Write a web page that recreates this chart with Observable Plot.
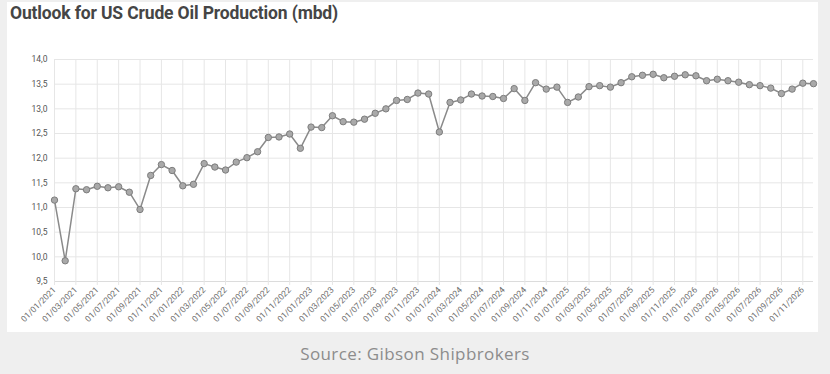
<!DOCTYPE html>
<html><head><meta charset="utf-8">
<script src="https://cdn.jsdelivr.net/npm/d3@7"></script>
<script src="https://cdn.jsdelivr.net/npm/@observablehq/plot@0.6"></script>
<style>
html,body{margin:0;padding:0;background:#efefef;width:830px;height:374px;overflow:hidden;}
#panel{position:absolute;left:7px;top:2px;width:811px;height:330px;background:#fff;}
#title{position:absolute;left:10px;top:3px;font:bold 17.5px Roboto;color:#454545;letter-spacing:-0.15px;white-space:nowrap}
#chart{position:absolute;left:0;top:40px;}
#source{position:absolute;left:0;width:830px;top:342px;text-align:center;font:17px "Open Sans";color:#8c8c8c;letter-spacing:0.4px;}
</style></head><body>
<div id="panel"></div>
<div id="title">Outlook for US Crude Oil Production (mbd)</div>
<div id="chart"></div>
<div id="source">Source: Gibson Shipbrokers</div>
<script>
// Monthly US crude oil production outlook (mbd), Jan 2021 – Dec 2026
const values = [
  11.15, 9.92, 11.38, 11.36, 11.43, 11.40, 11.42, 11.31, 10.96, 11.65, 11.87, 11.75,
  11.44, 11.47, 11.89, 11.82, 11.76, 11.92, 12.01, 12.13, 12.42, 12.43, 12.49, 12.20,
  12.63, 12.62, 12.86, 12.74, 12.73, 12.79, 12.91, 13.00, 13.17, 13.19, 13.32, 13.30,
  12.53, 13.13, 13.18, 13.30, 13.26, 13.25, 13.21, 13.41, 13.17, 13.53, 13.40, 13.44,
  13.13, 13.24, 13.45, 13.47, 13.44, 13.53, 13.65, 13.68, 13.70, 13.63, 13.66, 13.69,
  13.67, 13.57, 13.60, 13.57, 13.54, 13.49, 13.47, 13.42, 13.31, 13.40, 13.52, 13.51
];
const months = d3.utcMonths(new Date(Date.UTC(2021,0,1)), new Date(Date.UTC(2027,0,1)))
  .map(d3.utcFormat("%d/%m/%Y"));
const tickLabels = months.filter((d,i) => i % 2 === 0);
const yTicks = [9.5, 10, 10.5, 11, 11.5, 12, 12.5, 13, 13.5, 14];
const data = months.map((m,i) => ({month: m, value: values[i]}));

const chart = Plot.plot({
  width: 830, height: 292,
  marginLeft: 54, marginRight: 17, marginTop: 19, marginBottom: 51,
  style: {background: "transparent", fontFamily: "Roboto", fontSize: "8.5px", color: "#666", overflow: "visible"},
  x: {type: "point", domain: months, padding: 0, axis: null},
  y: {domain: [9.5, 14], axis: null},
  marks: [
    Plot.gridY(yTicks, {stroke: "#e6e6e6", strokeOpacity: 1}),
    Plot.gridX(tickLabels, {stroke: "#e6e6e6", strokeOpacity: 1}),
    Plot.ruleY([9.5], {stroke: "#dcdcdc"}),
    Plot.axisY(yTicks, {tickSize: 0, tickPadding: 7, tickFormat: d => d.toFixed(1).replace(".", ","), label: null, fontSize: 8.5, fill: "#555"}),
    Plot.axisX(tickLabels, {tickSize: 4, stroke: "#e6e6e6", tickRotate: -45, tickPadding: 3, label: null, fill: "#6e6e6e"}),
    Plot.line(data, {x: "month", y: "value", stroke: "#8a8a8a", strokeWidth: 1.5}),
    Plot.dot(data, {x: "month", y: "value", r: 3.2, fill: "#a9a9a9", stroke: "#7d7d7d", strokeWidth: 1})
  ]
});
document.getElementById("chart").appendChild(chart);
</script>
</body></html>
